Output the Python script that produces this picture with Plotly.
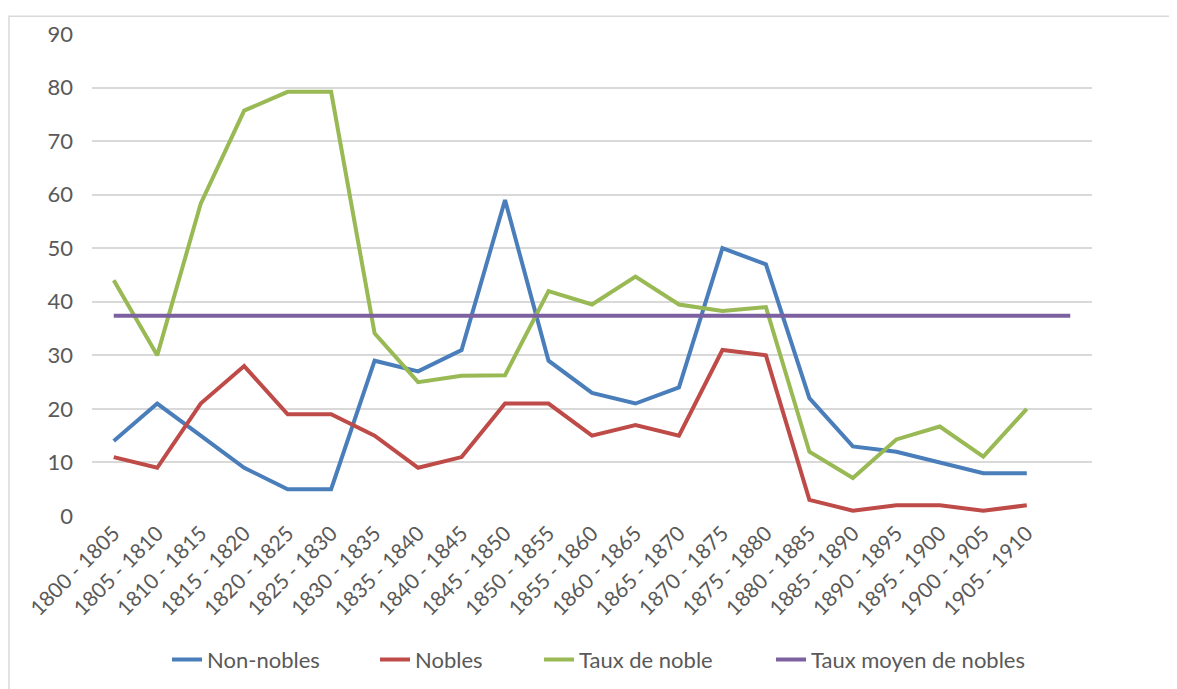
import plotly.graph_objects as go

categories = ["1800 - 1805", "1805 - 1810", "1810 - 1815", "1815 - 1820", "1820 - 1825",
              "1825 - 1830", "1830 - 1835", "1835 - 1840", "1840 - 1845", "1845 - 1850",
              "1850 - 1855", "1855 - 1860", "1860 - 1865", "1865 - 1870", "1870 - 1875",
              "1875 - 1880", "1880 - 1885", "1885 - 1890", "1890 - 1895", "1895 - 1900",
              "1900 - 1905", "1905 - 1910", ""]

non_nobles = [14, 21, 15, 9, 5, 5, 29, 27, 31, 59, 29, 23, 21, 24, 50, 47, 22, 13, 12, 10, 8, 8]
nobles = [11, 9, 21, 28, 19, 19, 15, 9, 11, 21, 21, 15, 17, 15, 31, 30, 3, 1, 2, 2, 1, 2]
taux_noble = [44, 30, 58.3, 75.7, 79.2, 79.2, 34.1, 25, 26.2, 26.3, 42, 39.5, 44.7, 39.5,
              38.3, 39, 12, 7.1, 14.3, 16.7, 11.1, 20]
taux_moyen = [37.4] * 23

y_ticks = [0, 10, 20, 30, 40, 50, 60, 70, 80, 90]

idx = list(range(len(categories)))

fig = go.Figure()
series = [
    ("Non-nobles", non_nobles, "#4a7ebb", "legend", 0.075),
    ("Nobles", nobles, "#be4b48", "legend2", 0.283),
    ("Taux de noble", taux_noble, "#98b954", "legend3", 0.447),
    ("Taux moyen de nobles", taux_moyen, "#7d60a0", "legend4", 0.679),
]
font_family = "Lato, 'Open Sans', sans-serif"
legends = {}
for name, vals, col, lg, lx in series:
    fig.add_trace(go.Scatter(
        x=idx[:len(vals)], y=vals, name=name, mode="lines",
        line=dict(color=col, width=4), legend=lg,
    ))
    legends[lg] = dict(orientation="h", x=lx, xanchor="left", y=-0.298, yanchor="middle",
                       font=dict(size=22, color="#595959"), bgcolor="rgba(0,0,0,0)")

fig.update_layout(
    width=1177, height=689,
    margin=dict(l=84, r=93, t=24, b=181),
    paper_bgcolor="white", plot_bgcolor="white",
    font=dict(family=font_family, size=22, color="#595959"),
    showlegend=True,
    xaxis=dict(
        range=[-0.5, 22.5], tickmode="array", tickvals=idx[:22], ticktext=categories[:22],
        tickangle=-45, showgrid=False, zeroline=False, showline=False,
        ticks="", tickfont=dict(size=21, color="#595959"),
    ),
    yaxis=dict(
        range=[0, 90], tickmode="array", tickvals=y_ticks,
        showgrid=True, gridcolor="#d9d9d9", gridwidth=1.5,
        zeroline=False, showline=False, ticks="",
        ticklabelstandoff=18, tickfont=dict(size=22, color="#595959"),
    ),
    shapes=[dict(type="rect", xref="paper", yref="paper",
                 x0=-0.083, x1=1.3, y0=-0.5, y1=1.037,
                 line=dict(color="#d9d9d9", width=1.5), layer="below")],
    **legends,
)

fig.write_html("out.html")
